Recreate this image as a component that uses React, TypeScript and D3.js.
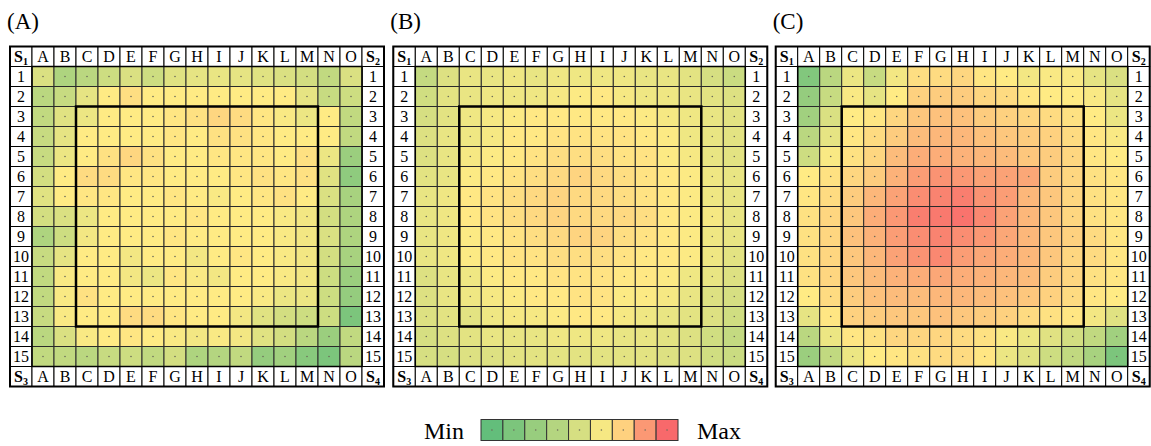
import React from 'react';
import * as d3 from 'd3';

// column letters and row numbers of each grid
const cols = ['A', 'B', 'C', 'D', 'E', 'F', 'G', 'H', 'I', 'J', 'K', 'L', 'M', 'N', 'O'];
const rows = ['1', '2', '3', '4', '5', '6', '7', '8', '9', '10', '11', '12', '13', '14', '15'];
const panelTitles = ['(A)', '(B)', '(C)'];

// relative values (0 = min, 100 = max)
const panelA = [
  [38, 24, 28, 34, 38, 34, 40, 42, 43, 42, 40, 38, 36, 30, 38],
  [28, 32, 42, 50, 55, 50, 50, 50, 50, 50, 50, 50, 42, 32, 34],
  [30, 40, 44, 50, 50, 50, 52, 54, 58, 56, 52, 48, 44, 50, 30],
  [32, 42, 50, 50, 50, 50, 52, 50, 54, 54, 52, 50, 50, 50, 30],
  [32, 44, 50, 54, 58, 54, 50, 50, 52, 52, 52, 50, 54, 44, 18],
  [36, 50, 56, 56, 52, 52, 50, 50, 50, 52, 54, 52, 54, 40, 14],
  [40, 50, 52, 52, 50, 50, 52, 50, 48, 50, 52, 54, 50, 38, 22],
  [36, 38, 44, 50, 50, 50, 50, 52, 50, 50, 50, 48, 46, 36, 24],
  [24, 34, 46, 50, 50, 50, 52, 50, 50, 50, 50, 48, 46, 38, 24],
  [32, 42, 50, 50, 46, 50, 50, 46, 50, 52, 50, 48, 46, 36, 22],
  [30, 48, 50, 50, 46, 44, 52, 48, 46, 50, 50, 48, 46, 34, 18],
  [30, 48, 54, 50, 50, 50, 50, 50, 50, 50, 48, 44, 44, 34, 16],
  [32, 48, 50, 50, 56, 56, 52, 50, 50, 46, 40, 36, 34, 34, 8],
  [28, 38, 48, 50, 52, 50, 48, 46, 48, 46, 40, 36, 28, 18, 30],
  [30, 30, 28, 32, 34, 30, 36, 24, 26, 30, 16, 20, 12, 8, 28],
];

const panelB = [
  [31, 39, 43, 43, 45, 43, 45, 45, 45, 45, 43, 43, 41, 37, 33],
  [35, 41, 43, 45, 45, 45, 47, 49, 51, 47, 45, 45, 43, 41, 39],
  [37, 41, 45, 47, 49, 51, 51, 51, 51, 51, 49, 47, 45, 43, 41],
  [39, 43, 45, 47, 51, 51, 53, 53, 53, 53, 51, 49, 45, 43, 41],
  [39, 43, 47, 49, 51, 53, 55, 55, 55, 53, 53, 49, 47, 43, 41],
  [41, 43, 49, 51, 53, 55, 57, 59, 57, 55, 53, 51, 49, 45, 43],
  [43, 45, 51, 53, 55, 57, 59, 57, 57, 55, 53, 51, 49, 45, 43],
  [43, 45, 51, 53, 55, 57, 59, 57, 57, 57, 55, 51, 49, 47, 43],
  [43, 45, 49, 51, 53, 55, 57, 59, 59, 55, 53, 51, 49, 45, 43],
  [43, 45, 49, 51, 53, 53, 55, 55, 55, 53, 51, 51, 49, 45, 41],
  [39, 43, 45, 49, 51, 51, 53, 53, 53, 51, 51, 49, 45, 43, 39],
  [39, 43, 45, 47, 49, 51, 51, 53, 53, 49, 49, 47, 43, 39, 37],
  [39, 41, 41, 45, 47, 47, 49, 51, 51, 47, 45, 43, 41, 39, 35],
  [37, 39, 41, 43, 43, 43, 45, 45, 45, 43, 43, 41, 39, 35, 31],
  [37, 37, 39, 39, 41, 41, 41, 41, 41, 41, 41, 39, 39, 35, 33],
];

const panelC = [
  [10, 28, 44, 32, 46, 55, 56, 58, 52, 50, 46, 48, 48, 42, 38],
  [16, 32, 48, 42, 50, 60, 62, 62, 58, 56, 52, 50, 50, 48, 42],
  [20, 38, 50, 52, 58, 64, 66, 66, 62, 60, 58, 56, 54, 50, 44],
  [28, 42, 52, 56, 62, 68, 70, 70, 66, 64, 62, 60, 56, 52, 48],
  [34, 48, 54, 58, 68, 74, 74, 72, 70, 68, 64, 62, 58, 52, 50],
  [50, 54, 58, 62, 72, 80, 84, 82, 78, 78, 76, 62, 58, 54, 52],
  [52, 56, 62, 70, 78, 86, 90, 92, 84, 80, 70, 64, 58, 54, 52],
  [54, 58, 64, 74, 82, 92, 94, 96, 88, 78, 70, 64, 58, 54, 52],
  [54, 58, 66, 72, 80, 86, 90, 86, 82, 76, 70, 64, 60, 56, 52],
  [54, 58, 64, 70, 78, 84, 88, 80, 76, 74, 70, 64, 58, 56, 52],
  [54, 58, 64, 68, 72, 74, 76, 74, 72, 70, 68, 62, 58, 54, 52],
  [50, 56, 62, 66, 68, 68, 70, 70, 68, 66, 64, 60, 56, 52, 50],
  [42, 52, 60, 62, 64, 64, 66, 64, 62, 60, 56, 54, 52, 46, 40],
  [28, 44, 52, 54, 58, 58, 58, 56, 54, 48, 44, 40, 36, 30, 20],
  [18, 30, 44, 50, 52, 54, 56, 56, 52, 44, 40, 34, 30, 22, 8],
];

// the nine swatches of the Min–Max key
const legendValues = [0, 8, 17, 26, 37, 47, 60, 82, 100];

const panels = [panelA, panelB, panelC];

const color = d3.scaleLinear<string>()
  .domain([0, 50, 100])
  .range(['#63be7b', '#ffeb84', '#f8696b'])
  .interpolate(d3.interpolateRgb);

const font = "'Liberation Serif', 'Times New Roman', serif";

const cw = 22, ch = 20;
const panelLeft = [10, 393.3, 775.7];
const panelTop = 46.5;

const x = d3.scaleBand<number>().domain(d3.range(17)).range([0, 17 * cw]);
const y = d3.scaleBand<number>().domain(d3.range(17)).range([0, 17 * ch]);

const SLabel = ({ cx, cy, n }: { cx: number; cy: number; n: number }) => (
  <text x={cx} y={cy + 5} textAnchor="middle" fontFamily={font} fontWeight="bold" fontSize={16}>
    S<tspan fontSize={10} dy={3}>{n}</tspan>
  </text>
);

const Panel = ({ data, idx }: { data: number[][]; idx: number }) => {
  const W = 17 * cw, H = 17 * ch;
  const headers: React.ReactNode[] = [];
  // header cells around the grid
  for (let i = 0; i < 17; i++) {
    for (const j of i === 0 || i === 16 ? d3.range(17) : [0, 16]) {
      headers.push(
        <rect key={`h${i}-${j}`} x={x(j)} y={y(i)} width={cw} height={ch}
          fill="#fff" stroke="#000" strokeWidth={1} />
      );
    }
  }
  const labels: React.ReactNode[] = [];
  cols.forEach((c, k) => {
    const cx = x(k + 1)! + cw / 2;
    labels.push(<text key={`t${c}`} x={cx} y={y(0)! + 15.5} textAnchor="middle" fontFamily={font} fontSize={16}>{c}</text>);
    labels.push(<text key={`b${c}`} x={cx} y={y(16)! + 15.5} textAnchor="middle" fontFamily={font} fontSize={16}>{c}</text>);
  });
  rows.forEach((r, k) => {
    const cy = y(k + 1)! + 15.5;
    labels.push(<text key={`l${r}`} x={x(0)! + cw / 2} y={cy} textAnchor="middle" fontFamily={font} fontSize={16}>{r}</text>);
    labels.push(<text key={`r${r}`} x={x(16)! + cw / 2} y={cy} textAnchor="middle" fontFamily={font} fontSize={16}>{r}</text>);
  });

  return (
    <g transform={`translate(${panelLeft[idx]},${panelTop})`}>
      {headers}
      {data.map((row, i) => row.map((v, j) => (
        <g key={`c${i}-${j}`}>
          <rect x={x(j + 1)} y={y(i + 1)} width={cw} height={ch}
            fill={color(v)} stroke="#2a2a2a" strokeWidth={1} />
          <circle cx={x(j + 1)! + cw / 2} cy={y(i + 1)! + ch / 2} r={0.8} fill="#6b6b5a" />
        </g>
      )))}
      {labels}
      <SLabel cx={x(0)! + cw / 2} cy={y(0)! + ch / 2} n={1} />
      <SLabel cx={x(16)! + cw / 2} cy={y(0)! + ch / 2} n={2} />
      <SLabel cx={x(0)! + cw / 2} cy={y(16)! + ch / 2} n={3} />
      <SLabel cx={x(16)! + cw / 2} cy={y(16)! + ch / 2} n={4} />
      {/* data area and outer frame */}
      <rect x={x(1)} y={y(1)} width={15 * cw} height={15 * ch} fill="none" stroke="#000" strokeWidth={1.5} />
      <rect x={0} y={0} width={W} height={H} fill="none" stroke="#000" strokeWidth={2} />
      {/* inner region C..M, rows 3..13 */}
      <rect x={x(3)} y={y(3)} width={11 * cw} height={11 * ch} fill="none" stroke="#000" strokeWidth={2.5} />
      <text x={-3} y={-17.5} fontFamily={font} fontSize={23}>{panelTitles[idx]}</text>
    </g>
  );
};

export default function App() {
  const lx = d3.scaleBand<number>().domain(d3.range(legendValues.length)).range([481, 678]);
  return (
    <svg width={1151} height={446} style={{ position: 'absolute', left: 0, top: 0, background: '#fff' }}>
      <rect width={1151} height={446} fill="#fff" />
      {panels.map((d, i) => <Panel key={i} data={d} idx={i} />)}
      <g>
        {legendValues.map((v, i) => (
          <g key={i}>
            <rect x={lx(i)} y={419.5} width={lx.bandwidth()} height={21} fill={color(v)} stroke="#333" strokeWidth={1} />
            <circle cx={lx(i)! + lx.bandwidth() / 2} cy={430} r={0.8} fill="#6b6b5a" />
          </g>
        ))}
        <text x={464} y={439} textAnchor="end" fontFamily={font} fontSize={24}>Min</text>
        <text x={697} y={439} fontFamily={font} fontSize={24}>Max</text>
      </g>
    </svg>
  );
}
